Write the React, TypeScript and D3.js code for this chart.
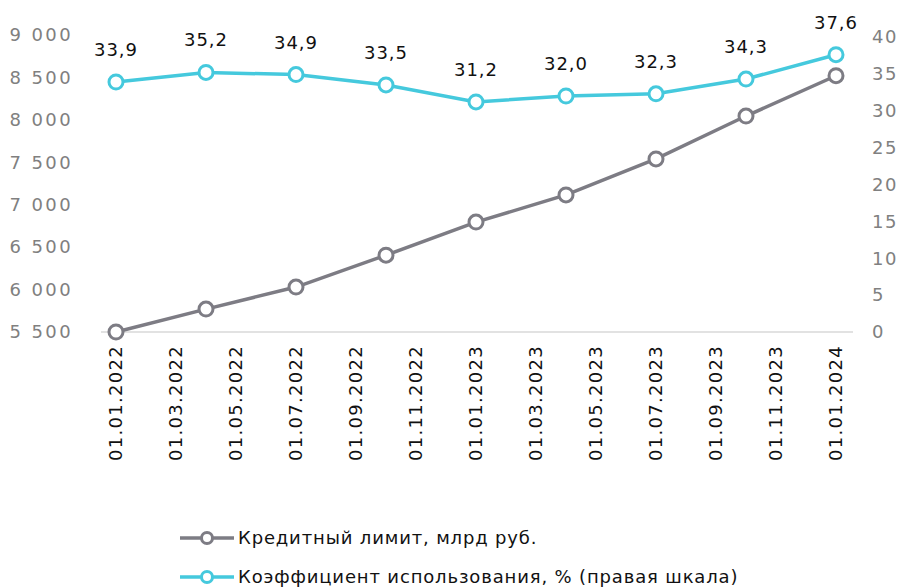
import React from "react";
import * as d3 from "d3";

// dates of observations (quarterly)
const dates = [
  "01.01.2022", "01.04.2022", "01.07.2022", "01.10.2022",
  "01.01.2023", "01.04.2023", "01.07.2023", "01.10.2023", "01.01.2024",
];
// credit limit, bn rub (left axis)
const creditLimit = [5500, 5770, 6030, 6405, 6795, 7115, 7540, 8045, 8520];
// utilisation ratio, % (right axis)
const utilisation = [33.9, 35.2, 34.9, 33.5, 31.2, 32.0, 32.3, 34.3, 37.6];

const xTickLabels = [
  "01.01.2022", "01.03.2022", "01.05.2022", "01.07.2022", "01.09.2022",
  "01.11.2022", "01.01.2023", "01.03.2023", "01.05.2023", "01.07.2023",
  "01.09.2023", "01.11.2023", "01.01.2024",
];
const leftTicks = [5500, 6000, 6500, 7000, 7500, 8000, 8500, 9000];
const rightTicks = [0, 5, 10, 15, 20, 25, 30, 35, 40];

const seriesNames = ["Кредитный лимит, млрд руб.", "Коэффициент использования, % (правая шкала)"];

const GRAY = "#7d7c84";
const CYAN = "#45c9dd";
const FONT = "'DejaVu Sans', sans-serif";

const monthIndex = (s: string) => {
  const [, m, y] = s.split(".").map(Number);
  return (y - 2022) * 12 + (m - 1);
};

const App = () => {
  const width = 902;
  const height = 588;
  const x = d3.scaleLinear().domain([0, 24]).range([116, 836]);
  const yL = d3.scaleLinear().domain([5500, 9000]).range([332, 35]);
  const yR = d3.scaleLinear().domain([0, 40]).range([332, 37]);

  const lineL = d3
    .line<number>()
    .x((_, i) => x(monthIndex(dates[i])))
    .y((d) => yL(d));
  const lineR = d3
    .line<number>()
    .x((_, i) => x(monthIndex(dates[i])))
    .y((d) => yR(d));

  const fmt = (v: number) => d3.format(",")(v).replace(",", " ");

  return (
    <svg
      width={width}
      height={height}
      style={{ position: "absolute", left: 0, top: 0, background: "#fff" }}
      fontFamily={FONT}
    >
      {/* baseline */}
      <line x1={101} x2={853} y1={yL(5500)} y2={yL(5500)} stroke="#d9d9d9" strokeWidth={1.5} />

      {/* left axis */}
      {leftTicks.map((t) => (
        <text key={t} x={73} y={yL(t)} dy="0.35em" textAnchor="end" fontSize={18} letterSpacing={2.4} fill="#808080">
          {fmt(t)}
        </text>
      ))}

      {/* right axis */}
      {rightTicks.map((t) => (
        <text key={t} x={872} y={yR(t)} dy="0.35em" textAnchor="start" fontSize={18} letterSpacing={1.6} fill="#808080">
          {t}
        </text>
      ))}

      {/* x axis labels */}
      {xTickLabels.map((t) => (
        <text
          key={t}
          transform={`translate(${x(monthIndex(t))},345) rotate(-90)`}
          dy="0.35em"
          textAnchor="end"
          fontSize={18}
          letterSpacing={1.3}
          fill="#111"
        >
          {t}
        </text>
      ))}

      {/* credit limit line */}
      <path d={lineL(creditLimit) || ""} fill="none" stroke={GRAY} strokeWidth={3.5} />
      {creditLimit.map((v, i) => (
        <circle key={i} cx={x(monthIndex(dates[i]))} cy={yL(v)} r={7} fill="#fff" stroke={GRAY} strokeWidth={3} />
      ))}

      {/* utilisation line */}
      <path d={lineR(utilisation) || ""} fill="none" stroke={CYAN} strokeWidth={3.5} />
      {utilisation.map((v, i) => (
        <circle key={i} cx={x(monthIndex(dates[i]))} cy={yR(v)} r={7} fill="#fff" stroke={CYAN} strokeWidth={3} />
      ))}
      {utilisation.map((v, i) => (
        <text
          key={i}
          x={x(monthIndex(dates[i]))}
          y={yR(v) - 26}
          textAnchor="middle"
          fontSize={18}
          letterSpacing={1}
          fill="#111"
        >
          {v.toFixed(1).replace(".", ",")}
        </text>
      ))}

      {/* legend */}
      {seriesNames.map((name, i) => {
        const cy = 538 + i * 39;
        const color = i === 0 ? GRAY : CYAN;
        return (
          <g key={name}>
            <line x1={180} x2={234} y1={cy} y2={cy} stroke={color} strokeWidth={3.5} />
            <circle cx={207} cy={cy} r={5.5} fill="#fff" stroke={color} strokeWidth={3} />
            <text x={238} y={cy} dy="0.35em" fontSize={18} letterSpacing={0.85} fill="#111">
              {name}
            </text>
          </g>
        );
      })}
    </svg>
  );
};

export default App;
